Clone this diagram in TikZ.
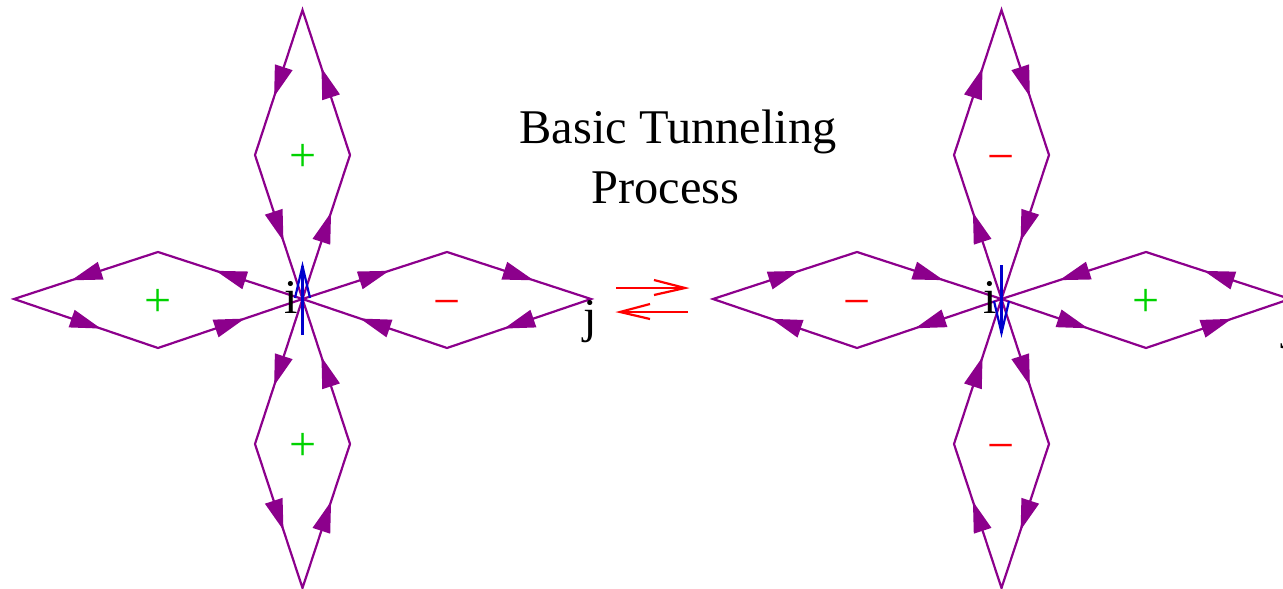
\documentclass[tikz,border=0pt]{standalone}
\usepackage{fontspec}
\setmainfont{Liberation Serif}
\usetikzlibrary{arrows.meta,decorations.markings}
\definecolor{loopc}{RGB}{140,0,140}
\definecolor{bluec}{RGB}{0,0,205}
\definecolor{greenc}{RGB}{0,210,0}
\definecolor{redc}{RGB}{255,0,0}
\tikzset{
  x=1pt,y=-1pt,
  looppath/.style={draw=loopc,line width=2.2pt,line join=miter,
    postaction={decorate,decoration={markings,
      mark=at position 0.15 with {\arrow{Triangle[length=31pt,width=18pt]}},
      mark=at position 0.40 with {\arrow{Triangle[length=31pt,width=18pt]}},
      mark=at position 0.65 with {\arrow{Triangle[length=31pt,width=18pt]}},
      mark=at position 0.90 with {\arrow{Triangle[length=31pt,width=18pt]}}}}},
  label48/.style={font=\fontsize{48.4}{48.4}\selectfont,inner sep=0pt,text=black},
  sign/.style={font=\fontsize{48}{48}\selectfont,inner sep=0pt,anchor=center},
  barbblue/.style={draw=bluec,line width=2.2pt,line join=miter},
  barbred/.style={draw=redc,line width=2.2pt,line join=miter},
}
\newcommand{\crossshape}[2]{%
  \begin{scope}[xshift=#2pt]
    \coordinate (#1c) at (302.5,299);
    \coordinate (#1ta) at (302.5,10);  \coordinate (#1tl) at (255,155); \coordinate (#1tr) at (350,155);
    \coordinate (#1ba) at (302.5,588); \coordinate (#1bl) at (255,444); \coordinate (#1br) at (350,444);
    \coordinate (#1la) at (14,299);    \coordinate (#1lu) at (158,252); \coordinate (#1ld) at (158,348);
    \coordinate (#1ra) at (591,299);   \coordinate (#1ru) at (447,252); \coordinate (#1rd) at (447,348);
  \end{scope}
}
\begin{document}
\begin{tikzpicture}
\useasboundingbox (0,0) rectangle (1283,589);
\crossshape{a}{0}
\crossshape{b}{699}
% left cross: counter-clockwise loops
\path[looppath] (ac) -- (atr) -- (ata) -- (atl) -- cycle;
\path[looppath] (ac) -- (alu) -- (ala) -- (ald) -- cycle;
\path[looppath] (ac) -- (abl) -- (aba) -- (abr) -- cycle;
\path[looppath] (ac) -- (aru) -- (ara) -- (ard) -- cycle;
% right cross: clockwise loops
\path[looppath] (bc) -- (btl) -- (bta) -- (btr) -- cycle;
\path[looppath] (bc) -- (bld) -- (bla) -- (blu) -- cycle;
\path[looppath] (bc) -- (bbr) -- (bba) -- (bbl) -- cycle;
\path[looppath] (bc) -- (brd) -- (bra) -- (bru) -- cycle;
% signs
\node[sign,text=greenc] (s1) at (303,158) {+};
\node[sign,text=greenc] (s2) at (158.5,303) {+};
\node[sign,text=greenc] (s3) at (303,447) {+};
\node[sign,text=redc] (s4) at (447.5,309) {−};
\node[sign,text=redc] (s5) at (1001.5,164) {−};
\node[sign,text=redc] (s6) at (857,309) {−};
\node[sign,text=redc] (s7) at (1001.5,453) {−};
\node[sign,text=greenc] (s8) at (1146.5,303) {+};
% labels
\node[label48,anchor=base] (i1) at (291,313) {i};
\node[label48,anchor=base] (i2) at (990,313) {i};
\node[label48,anchor=base] (j1) at (590,332) {j};
\node[label48,anchor=base] (j2) at (1289,338) {j};
\node[label48,anchor=base] (t1) at (678,143) {Basic Tunneling};
\node[label48,anchor=base] (t2) at (665.5,203) {Process};
% blue spin arrows
\coordinate (u0) at (302.5,335); \coordinate (u1) at (302.5,266);
\coordinate (ul) at (295,298); \coordinate (ur) at (310,298);
\draw[barbblue] (u0) -- (u1);
\draw[barbblue] (ul) -- (u1) -- (ur);
\coordinate (v0) at (1001.5,265); \coordinate (v1) at (1001.5,333);
\coordinate (vl) at (994,301); \coordinate (vr) at (1009,301);
\draw[barbblue] (v0) -- (v1);
\draw[barbblue] (vl) -- (v1) -- (vr);
% red equilibrium arrows
\coordinate (r0) at (616,288); \coordinate (r1) at (685,288);
\coordinate (r2) at (654,280); \coordinate (r3) at (654,295);
\draw[barbred] (r0) -- (r1);
\draw[barbred] (r2) -- (r1) -- (r3);
\coordinate (q0) at (688,312); \coordinate (q1) at (620,312);
\coordinate (q2) at (650,304); \coordinate (q3) at (650,319);
\draw[barbred] (q0) -- (q1);
\draw[barbred] (q2) -- (q1) -- (q3);
\end{tikzpicture}
\end{document}
